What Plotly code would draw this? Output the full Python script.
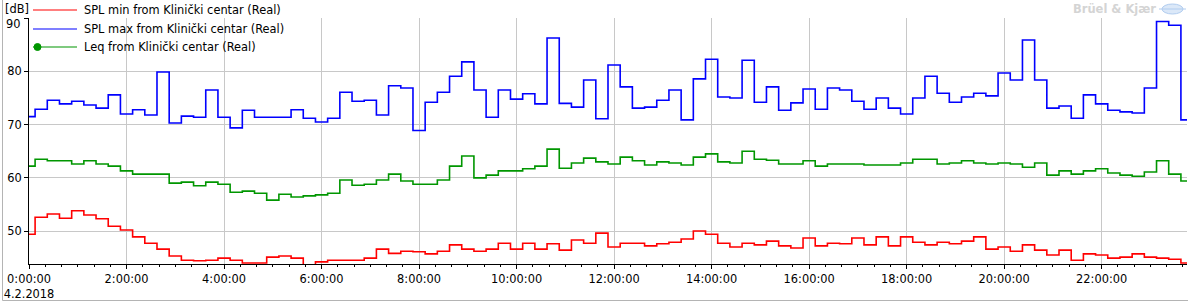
import plotly.graph_objects as go
import pandas as pd

# ---------------- data (15-minute values, 4.2.2018) ----------------
spl_max = [71.5, 72.9, 74.6, 73.9, 74.4, 73.7, 73.1, 75.6, 72.0, 72.8,
           71.8, 79.9, 70.3, 71.6, 71.4, 76.5, 71.4, 69.4, 72.7, 71.4,
           71.4, 71.4, 72.8, 71.2, 70.5, 71.2, 76.1, 74.4, 74.6, 71.8,
           77.3, 76.9, 68.9, 74.2, 76.1, 79.1, 81.8, 76.5, 71.4, 76.5,
           74.8, 75.8, 73.9, 86.3, 74.0, 73.3, 78.4, 71.1, 81.2, 77.1,
           73.1, 73.3, 74.6, 76.5, 70.9, 78.6, 82.3, 75.2, 75.0, 82.1,
           74.2, 77.1, 72.7, 74.1, 76.7, 72.9, 76.9, 76.5, 74.4, 72.9,
           75.0, 73.1, 72.0, 75.0, 79.1, 75.9, 74.2, 75.2, 75.9, 75.4,
           79.7, 78.4, 85.9, 78.4, 73.1, 73.5, 71.2, 75.6, 73.9, 72.7,
           72.4, 72.2, 76.9, 89.4, 88.7, 70.9]

spl_min = [49.4, 52.6, 53.2, 52.4, 53.8, 53.0, 52.3, 50.9, 50.2, 48.9,
           47.7, 46.6, 45.3, 44.5, 44.4, 44.5, 44.9, 44.5, 44.0, 44.0,
           45.1, 45.3, 44.9, 43.5, 44.2, 44.5, 44.5, 44.5, 44.9, 46.6,
           45.8, 46.2, 46.1, 45.7, 46.2, 47.4, 46.6, 46.2, 46.6, 47.7,
           46.6, 47.7, 46.6, 47.6, 46.4, 48.3, 47.7, 49.6, 47.0, 47.7,
           47.7, 47.2, 47.6, 47.9, 48.5, 50.0, 49.4, 47.7, 47.0, 47.7,
           47.4, 48.1, 47.2, 46.8, 48.7, 47.2, 47.7, 47.6, 48.7, 47.4,
           48.9, 47.2, 48.9, 47.9, 47.4, 47.9, 47.6, 48.1, 48.9, 46.6,
           47.0, 46.2, 47.4, 46.4, 45.5, 46.4, 44.5, 45.7, 45.5, 44.9,
           45.1, 45.7, 45.1, 44.9, 44.7, 44.0]

leq = [62.2, 63.5, 63.2, 63.2, 62.6, 63.2, 62.6, 62.2, 61.3, 60.7,
       60.7, 60.7, 59.0, 59.2, 58.5, 59.2, 58.8, 57.3, 57.5, 57.1,
       55.8, 56.9, 56.4, 56.6, 56.8, 57.1, 59.6, 58.6, 58.8, 59.6,
       60.7, 59.4, 58.8, 58.8, 59.6, 62.2, 64.1, 60.0, 60.5, 61.3,
       61.3, 61.7, 62.2, 65.4, 61.8, 62.8, 63.7, 63.0, 62.6, 63.9,
       63.2, 62.4, 63.0, 62.8, 62.4, 63.9, 64.5, 63.0, 62.8, 65.0,
       63.5, 63.3, 62.6, 62.6, 63.2, 62.2, 62.6, 62.6, 62.6, 62.4,
       62.4, 62.4, 62.8, 63.5, 63.5, 62.6, 62.8, 63.2, 62.8, 62.6,
       62.8, 62.6, 62.0, 62.8, 60.5, 61.3, 60.7, 61.3, 61.7, 60.9,
       60.5, 60.3, 61.1, 63.2, 60.7, 59.4]

times = pd.date_range("2018-02-04 00:00", periods=len(leq), freq="15min")

series_names = ["SPL min from Klinički centar (Real)",
                "SPL max from Klinički centar (Real)",
                "Leq from Klinički centar (Real)"]
series_colors = ["#ff0000", "#0000ff", "#009600"]

tick_times = pd.date_range("2018-02-04 00:00", periods=12, freq="2h")
tick_labels = ["0:00:00<br>4.2.2018", "2:00:00", "4:00:00", "6:00:00", "8:00:00",
               "10:00:00", "12:00:00", "14:00:00", "16:00:00", "18:00:00",
               "20:00:00", "22:00:00"]
y_ticks = [50, 60, 70, 80, 90]
y_labels = ["50", "60", "70", "80", "90"]
y_unit = "[dB]"
brand = "Brüel & Kjær"

# ---------------- layout geometry (pixels) ----------------
W, H = 1188, 302
ML, MR, MT, MB = 29, 1, 18, 38
PW, PH = W - ML - MR, H - MT - MB
FONT = "DejaVu Sans"
FS = 11.4


def px(x):
    return (x - ML) / PW


def py(y):
    return 1 - (y - MT) / PH


fig = go.Figure()
for vals, name, col in zip([spl_min, spl_max, leq], series_names, series_colors):
    fig.add_trace(go.Scatter(x=times, y=vals, mode="lines", name=name,
                             line=dict(color=col, width=1.6, shape="hvh"),
                             showlegend=False, hoverinfo="x+y+name"))

shapes = []
annotations = []
# custom legend
legend_rows = [10, 29, 47]
for name, col, yr in zip(series_names, series_colors, legend_rows):
    shapes.append(dict(type="line", xref="paper", yref="paper",
                       x0=px(33), x1=px(77), y0=py(yr), y1=py(yr),
                       line=dict(color=col, width=1.2)))
    annotations.append(dict(text=name, xref="paper", yref="paper",
                            x=px(82), y=py(yr), xanchor="left", yanchor="middle",
                            showarrow=False, font=dict(family=FONT, size=FS, color="black")))
# marker for Leq legend entry
shapes.append(dict(type="circle", xref="paper", yref="paper",
                   xsizemode="pixel", ysizemode="pixel",
                   xanchor=px(37.5), yanchor=py(47),
                   x0=-3.5, x1=3.5, y0=-3.5, y1=3.5,
                   fillcolor=series_colors[2], line=dict(color=series_colors[2], width=1)))
# unit label
annotations.append(dict(text=y_unit, xref="paper", yref="paper",
                        x=px(3), y=py(9.5), xanchor="left", yanchor="middle",
                        showarrow=False, font=dict(family=FONT, size=FS, color="black")))
# top y label sits below its tick (as in the reference, kept inside the frame)
annotations.append(dict(text=y_labels[-1], xref="paper", yref="y",
                        x=px(23), y=y_ticks[-1], yshift=-6,
                        xanchor="right", yanchor="middle",
                        showarrow=False, font=dict(family=FONT, size=FS, color="black")))
# brand
annotations.append(dict(text="<b>" + brand + "</b>", xref="paper", yref="paper",
                        x=px(1158), y=py(9), xanchor="right", yanchor="middle",
                        showarrow=False, font=dict(family=FONT, size=11.5, color="#d4d4d4")))
shapes.append(dict(type="circle", xref="paper", yref="paper",
                   x0=px(1162), x1=px(1183), y0=py(14), y1=py(4),
                   fillcolor="#dbe8f8", line=dict(color="#b0ccef", width=1)))
shapes.append(dict(type="line", xref="paper", yref="paper",
                   x0=px(1159), x1=px(1186), y0=py(9), y1=py(9),
                   line=dict(color="#b0ccef", width=1)))
# window frame
shapes.append(dict(type="line", xref="paper", yref="paper",
                   x0=px(2.5), x1=px(2.5), y0=py(0), y1=py(300.5),
                   line=dict(color="#b4b4b4", width=1)))
shapes.append(dict(type="line", xref="paper", yref="paper",
                   x0=px(2.5), x1=px(1188), y0=py(300.5), y1=py(300.5),
                   line=dict(color="#b4b4b4", width=1)))

fig.update_layout(
    width=W, height=H,
    margin=dict(l=ML, r=MR, t=MT, b=MB, pad=0),
    paper_bgcolor="white", plot_bgcolor="white",
    font=dict(family=FONT, size=FS, color="black"),
    shapes=shapes, annotations=annotations,
    showlegend=False,
)
fig.update_xaxes(
    type="date",
    range=[times[0], times[-1]],
    tickmode="array", tickvals=tick_times, ticktext=tick_labels,
    showgrid=True, gridcolor="#c8c8c8", gridwidth=1,
    showline=True, linecolor="black", linewidth=1,
    ticks="outside", ticklen=4, tickcolor="black",
    tickfont=dict(family=FONT, size=FS, color="black"),
    minor=dict(tickmode="linear", tick0=times[0], dtick=20 * 60 * 1000,
               ticks="outside", ticklen=2, tickcolor="black", showgrid=False),
    zeroline=False, fixedrange=True,
)
fig.update_yaxes(
    range=[43.8, 90.05],
    tickmode="array", tickvals=y_ticks,
    ticktext=y_labels[:-1] + [""],
    showgrid=True, gridcolor="#c8c8c8", gridwidth=1,
    showline=True, linecolor="black", linewidth=1,
    ticks="outside", ticklen=4, tickcolor="black",
    tickfont=dict(family=FONT, size=FS, color="black"),
    zeroline=False, fixedrange=True,
)

fig.write_html("out.html", config={"displayModeBar": False})
